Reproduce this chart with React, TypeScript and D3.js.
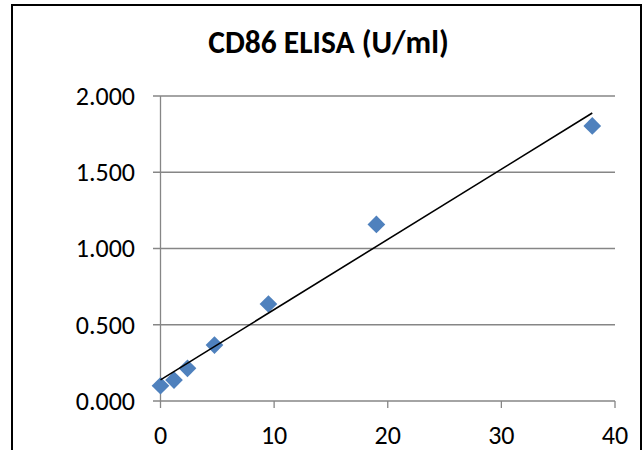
import React from "react";
import * as d3 from "d3";

// CD86 standard curve: concentration (U/ml) vs optical density
const concentrations = [0, 1.1875, 2.375, 4.75, 9.5, 19, 38];
const absorbance = [0.1, 0.137, 0.214, 0.367, 0.636, 1.158, 1.804];
const xTicks = [0, 10, 20, 30, 40];
const yTicks = [0, 0.5, 1, 1.5, 2];
const title = "CD86 ELISA (U/ml)";

const width = 644;
const height = 450;
const margin = { top: 96, right: 29, bottom: 49, left: 160.5 };
const font = "Carlito, 'Open Sans', sans-serif";

export default function App() {
  const x = d3.scaleLinear().domain([0, 40]).range([margin.left, width - margin.right]);
  const y = d3.scaleLinear().domain([0, 2]).range([height - margin.bottom, margin.top]);

  // least squares trendline over the data range
  const mx = d3.mean(concentrations)!;
  const my = d3.mean(absorbance)!;
  const sxy = d3.sum(concentrations, (c, i) => (c - mx) * (absorbance[i] - my));
  const sxx = d3.sum(concentrations, (c) => (c - mx) ** 2);
  const slope = sxy / sxx;
  const intercept = my - slope * mx;
  const [x0, x1] = d3.extent(concentrations) as [number, number];
  const trend = d3.line<number>()
    .x((d) => x(d))
    .y((d) => y(intercept + slope * d))([x0, x1]);

  const diamond = d3.symbol().type(d3.symbolDiamond2).size(200)()!;
  const fmt = d3.format(".3f");
  const grey = "#868686";

  return (
    <svg width={width} height={height} style={{ position: "absolute", left: 0, top: 0, background: "#fff" }}>
      <rect x={12} y={5} width={629} height={460} fill="#fff" stroke="#000" strokeWidth={2} />
      <text x={328.5} y={53} textAnchor="middle" fontFamily={font} fontWeight="bold" fontSize={31.5} fill="#000">
        {title}
      </text>

      {yTicks.map((t) => (
        <g key={t}>
          <line x1={153} x2={x(40)} y1={y(t)} y2={y(t)} stroke={grey} strokeWidth={1.3} />
          <text x={135} y={y(t)} dy="0.34em" textAnchor="end" fontFamily={font} fontSize={26} fill="#000">
            {fmt(t)}
          </text>
        </g>
      ))}
      <line x1={x(0)} x2={x(0)} y1={y(2)} y2={y(0)} stroke={grey} strokeWidth={1.3} />
      {xTicks.map((t) => (
        <g key={t}>
          <line x1={x(t)} x2={x(t)} y1={y(0)} y2={y(0) + 7} stroke={grey} strokeWidth={1.3} />
          <text x={x(t)} y={444} textAnchor="middle" fontFamily={font} fontSize={26} fill="#000">
            {t}
          </text>
        </g>
      ))}

      {concentrations.map((c, i) => (
        <path key={i} d={diamond} transform={`translate(${x(c)},${y(absorbance[i])})`} fill="#4F81BD" />
      ))}
      <path d={trend!} fill="none" stroke="#000" strokeWidth={1.6} />
    </svg>
  );
}
